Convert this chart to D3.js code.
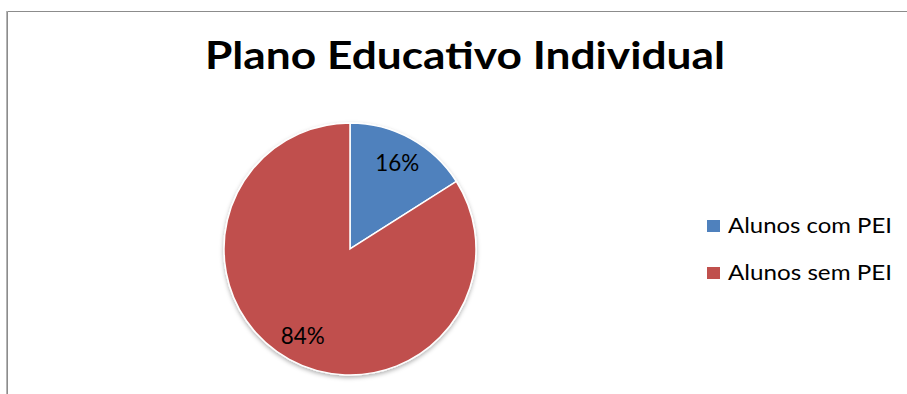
<!DOCTYPE html>
<html><head><meta charset="utf-8">
<script src="https://cdn.jsdelivr.net/npm/d3@7"></script>
<style>body{margin:0;background:#fff}svg{display:block}</style>
</head><body>
<script>
const categories = ["Alunos com PEI", "Alunos sem PEI"];
const values = [16, 84];
const labels = ["16%", "84%"];
const colors = ["#4F81BD", "#C0504D"];
const title = "Plano Educativo Individual";

const W = 907, H = 394;
const svg = d3.select("body").append("svg").attr("width", W).attr("height", H);
const defs = svg.append("defs");
const f = defs.append("filter").attr("id","sh").attr("x","-20%").attr("y","-20%").attr("width","140%").attr("height","140%");
f.append("feDropShadow").attr("dx",0).attr("dy",2).attr("stdDeviation",2).attr("flood-color","#000").attr("flood-opacity",0.3);

// frame
svg.append("path").attr("d","M7.5,394 V11.5 H907").attr("fill","none").attr("stroke","#8c8c8c").attr("stroke-width",1);
svg.append("line").attr("x1",6.5).attr("x2",6.5).attr("y1",11).attr("y2",394).attr("stroke","#b5b5b5").attr("stroke-width",1);

svg.append("text").attr("x",465).attr("y",69).attr("text-anchor","middle")
  .attr("font-family","Lato, Carlito, sans-serif").attr("font-weight","bold").attr("font-size",38)
  .attr("textLength",520).attr("lengthAdjust","spacingAndGlyphs")
  .text(title);

const cx = 350, cy = 249, r = 126;
const pie = d3.pie().sort(null).value(d => d)(values);
const arc = d3.arc().innerRadius(0).outerRadius(r);
const g = svg.append("g").attr("transform",`translate(${cx},${cy})`);
g.append("g").attr("filter","url(#sh)").selectAll("path").data(pie).join("path")
  .attr("d", arc).attr("fill",(d,i)=>colors[i]).attr("stroke","#fff").attr("stroke-width",1.5);

const labelArc = d3.arc().innerRadius(r*0.78).outerRadius(r*0.78);
g.selectAll("text.lbl").data(pie).join("text").attr("class","lbl")
  .attr("transform", d => `translate(${labelArc.centroid(d)})`)
  .attr("text-anchor","middle").attr("dy",8.5)
  .attr("font-family","Lato, Carlito, sans-serif").attr("font-size",24).attr("fill","#000")
  .attr("textLength",44).attr("lengthAdjust","spacingAndGlyphs")
  .text((d,i)=>labels[i]);

const leg = svg.append("g").attr("transform","translate(707,220)");
const items = leg.selectAll("g").data(categories).join("g").attr("transform",(d,i)=>`translate(0,${i*47})`);
items.append("rect").attr("width",13).attr("height",12).attr("fill",(d,i)=>colors[i]);
items.append("text").attr("x",21).attr("y",13).attr("font-family","Lato, Carlito, sans-serif").attr("font-size",21).attr("fill","#000")
  .attr("textLength",164).attr("lengthAdjust","spacingAndGlyphs").text(d=>d);
</script>
</body></html>
